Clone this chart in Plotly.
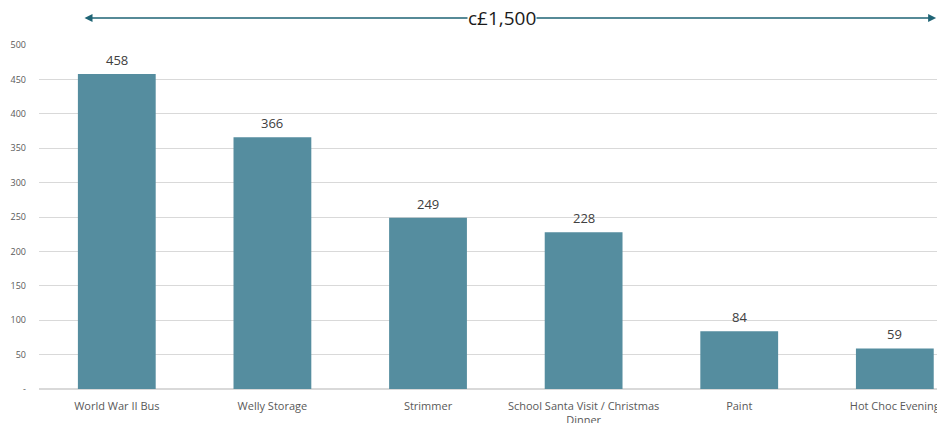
import plotly.graph_objects as go

categories = ["World War II Bus", "Welly Storage", "Strimmer",
              "School Santa Visit / Christmas<br>Dinner", "Paint", "Hot Choc Evening"]
values = [458, 366, 249, 228, 84, 59]
tick_vals = [0, 50, 100, 150, 200, 250, 300, 350, 400, 450, 500]
tick_text = ["-", "50", "100", "150", "200", "250", "300", "350", "400", "450", "500"]
total_label = "c£1,500"

xs = list(range(len(categories)))

fig = go.Figure()
fig.add_trace(go.Bar(
    x=xs, y=values,
    width=0.5,
    marker=dict(color="#558D9F", line=dict(width=0)),
    cliponaxis=False,
))

for xi, v in zip(xs, values):
    fig.add_annotation(
        x=xi, y=v, xref="x", yref="y", text=str(v), showarrow=False,
        yanchor="bottom", yshift=3,
        font=dict(size=13, color="#404040", family="Open Sans"),
    )

fig.update_layout(
    width=937, height=423,
    margin=dict(l=39, r=0, t=45, b=34, autoexpand=False),
    paper_bgcolor="white", plot_bgcolor="white",
    showlegend=False,
    font=dict(family="Open Sans", color="#595959"),
)
fig.update_xaxes(
    tickmode="array", tickvals=xs, ticktext=categories,
    range=[-0.5, 5.271], showgrid=False, zeroline=False, showline=False,
    tickfont=dict(size=11, color="#595959"), ticks="", ticklabelstandoff=9,
    automargin=False, ticklabeloverflow="allow",
)
fig.update_yaxes(
    range=[0, 500], tickmode="array", tickvals=tick_vals, ticktext=tick_text,
    showgrid=True, gridcolor="#D9D9D9", gridwidth=1, zeroline=True,
    zerolinecolor="#D9D9D9", showline=False,
    tickfont=dict(size=9, color="#595959"), ticks="", ticklabelstandoff=12,
    automargin=False,
)

# double-headed arrow
fig.add_annotation(
    xref="x domain", yref="y domain", axref="x domain", ayref="y domain",
    x=0.999, y=1.0785, ax=0.049, ay=1.0785, text="",
    showarrow=True, arrowhead=2, startarrowhead=2, arrowside="end+start",
    arrowsize=1, arrowwidth=1.6, arrowcolor="#1F6475",
)
fig.add_annotation(
    xref="x domain", yref="y domain", x=0.5156, y=1.0785,
    text=total_label, showarrow=False, bgcolor="white",
    font=dict(size=19, color="#1a1a1a", family="Open Sans"),
    xanchor="center", yanchor="middle", borderpad=0,
)

fig.write_html("out.html",
               config={"displayModeBar": False, "staticPlot": True},
               post_script="document.body.style.margin='0';document.body.style.overflow='hidden';")
